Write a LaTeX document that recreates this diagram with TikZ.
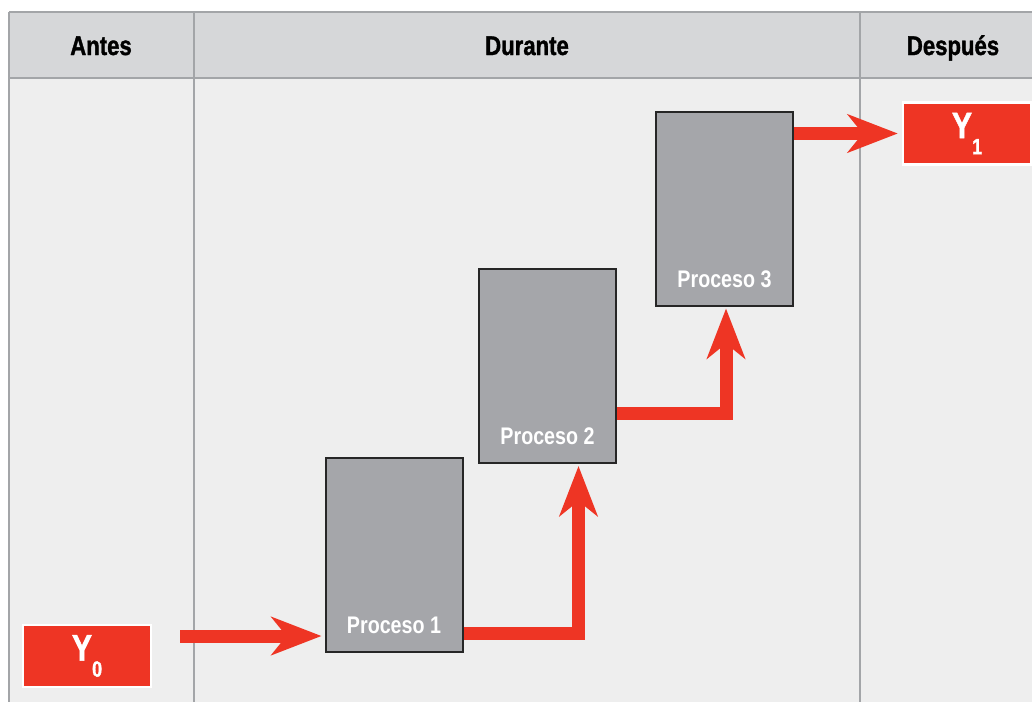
\documentclass[tikz,border=0pt]{standalone}
\usepackage{fontspec}
\setmainfont{Liberation Sans}[FakeStretch=0.82]
\newfontfamily\heavyfont{Liberation Sans}[FakeStretch=0.82, FakeBold=1.3]
\usepackage{tikz}
\usetikzlibrary{arrows.meta, positioning, calc}
\definecolor{flowred}{HTML}{EE3524}
\definecolor{procgray}{HTML}{A5A6AA}
\definecolor{headgray}{HTML}{D6D7D9}
\definecolor{bodygray}{HTML}{EEEEEE}
\definecolor{linegray}{HTML}{A3A5A8}
\tikzstyle{header} = [anchor=base, font=\heavyfont\fontsize{13.5}{15}\selectfont\bfseries, text=black]
\tikzstyle{process} = [rectangle, minimum width=68.5pt, minimum height=97pt, draw=black!85, line width=1pt, fill=procgray]
\tikzstyle{proclabel} = [anchor=south, yshift=6pt, text=white, font=\fontsize{12}{14}\selectfont\bfseries]
\tikzstyle{yvar} = [rectangle, minimum width=64pt, minimum height=31pt, draw=white, line width=1.2pt, fill=flowred, text=white, font=\heavyfont\fontsize{18.5}{20}\selectfont\bfseries, inner sep=0pt]
\tikzstyle{flow} = [line width=6.5pt, draw=flowred, -{Stealth[length=25pt, width=19pt, inset=7.5pt]}]
\newcommand{\yname}[1]{Y\raisebox{-8pt}{\fontsize{11}{12}\selectfont #1}}

\begin{document}
\begin{tikzpicture}[x=0.5pt, y=-0.5pt]
\useasboundingbox (0,0) rectangle (1032,702);
% Table background
\fill[white] (0,0) rectangle (1032,702);
\fill[bodygray] (9,78) rectangle (1032,702);
\fill[headgray] (9,12) rectangle (1032,78);
\draw[linegray, line width=1pt] (9,12) -- (1032,12);
\draw[linegray, line width=1pt] (9,78) -- (1032,78);
\draw[linegray, line width=1pt] (9,12) -- (9,702);
\draw[linegray, line width=1pt] (194,12) -- (194,702);
\draw[linegray, line width=1pt] (860,12) -- (860,702);

% Column titles
\node (antes) [header] at (101,55) {Antes};
\node (durante) [header] at (527,55) {Durante};
\node (despues) [header] at (953,55) {Después};

% Define nodes
\node (y0) [yvar] at (87,656) {\yname{0}};
\node (y1) [yvar] at (967,133.5) {\yname{1}};
\node (p1) [process, label={[proclabel]south:Proceso 1}] at (394,555) {};
\node (p2) [process, label={[proclabel]south:Proceso 2}] at (547.5,366) {};
\node (p3) [process, label={[proclabel]south:Proceso 3}] at (724.5,208.5) {};

% Flow arrows
\coordinate (start) at ([xshift=14pt, yshift=10pt]y0.east);
\draw [flow, shorten >=1.5pt] (start) -- (p1.west |- start);
\draw [flow, shorten >=1pt] ([yshift=10pt]p1.south east) -| ([xshift=15.5pt]p2.south);
\draw [flow, shorten >=1pt] ([yshift=25.5pt]p2.south east) -| ([xshift=0.75pt]p3.south);
\draw [flow, shorten >=2pt] (p3.east |- y1.west) -- (y1.west);
\end{tikzpicture}
\end{document}
